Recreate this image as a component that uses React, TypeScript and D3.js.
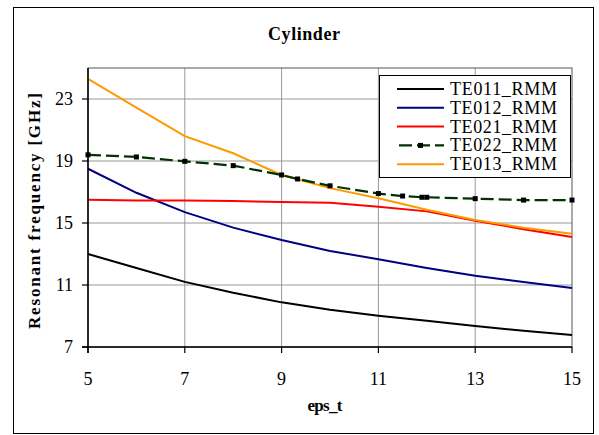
import React from "react";
import * as d3 from "d3";

const xs = [5, 6, 7, 8, 9, 10, 11, 12, 13, 14, 15];
const te011 = [13.0, 12.1, 11.2, 10.5, 9.88, 9.4, 9.02, 8.7, 8.35, 8.05, 7.77];
const te012 = [18.5, 16.95, 15.7, 14.7, 13.9, 13.2, 12.66, 12.1, 11.6, 11.2, 10.8];
const te021 = [16.5, 16.45, 16.45, 16.42, 16.35, 16.3, 16.05, 15.75, 15.15, 14.6, 14.1];
const te013 = [24.3, 22.45, 20.6, 19.5, 18.1, 17.25, 16.6, 15.85, 15.2, 14.7, 14.3];
const te022X = [5, 6, 7, 8, 9, 9.33, 10, 11, 11.5, 11.9, 12, 13, 14, 15];
const te022 = [19.4, 19.26, 18.98, 18.7, 18.1, 17.84, 17.4, 16.9, 16.74, 16.66, 16.66, 16.57, 16.48, 16.48];
const xTicks = [5, 7, 9, 11, 13, 15];
const yTicks = [7, 11, 15, 19, 23];
const seriesNames = ["TE011_RMM", "TE012_RMM", "TE021_RMM", "TE022_RMM", "TE013_RMM"];
const seriesColors = ["#000000", "#000080", "#ff0000", "#003300", "#ff9900"];

const TS = { fontFamily: "serif" };

export default function App() {
  const W = 599, H = 435;
  const L = 88, R = 572, T = 68, B = 347;
  const x = d3.scaleLinear().domain([5, 15]).range([L, R]);
  const y = d3.scaleLinear().domain([7, 25]).range([B, T]);
  const line = d3.line<[number, number]>().x(d => x(d[0])).y(d => y(d[1]));
  const mk = (vals: number[], xv: number[] = xs) => line(xv.map((v, i) => [v, vals[i]] as [number, number])) || "";
  const series = [
    { d: mk(te011), c: seriesColors[0] },
    { d: mk(te012), c: seriesColors[1] },
    { d: mk(te021), c: seriesColors[2] },
    { d: mk(te013), c: seriesColors[4] },
  ];
  const legY0 = 89, legStep = 18.8;
  return (
    <svg width={W} height={H} style={{ position: "absolute", left: 0, top: 0, fontFamily: "serif" }}>
      <rect x={0} y={0} width={W} height={H} fill="#fff" />
      <rect x={13.5} y={7.5} width={580} height={426} fill="none" stroke="#000" strokeWidth={1} />
      <text x={304} y={40} textAnchor="middle" style={TS} fontSize={18} fontWeight="bold" textLength={72}>Cylinder</text>
      {xTicks.slice(1, -1).map(t => (
        <line key={"gx" + t} x1={x(t)} x2={x(t)} y1={T} y2={B} stroke="#999" strokeWidth={1} />
      ))}
      {yTicks.slice(1).map(t => (
        <line key={"gy" + t} x1={L} x2={R} y1={y(t)} y2={y(t)} stroke="#999" strokeWidth={1} />
      ))}
      <rect x={L} y={T} width={R - L} height={B - T} fill="none" stroke="#555" strokeWidth={1} />
      {series.map((s, i) => (
        <path key={i} d={s.d} fill="none" stroke={s.c} strokeWidth={2} />
      ))}
      <path d={mk(te022, te022X)} fill="none" stroke={seriesColors[3]} strokeWidth={2.2} strokeDasharray="13,5" />
      {te022X.map((v, i) => (
        <rect key={"m" + i} x={x(v) - 2.5} y={y(te022[i]) - 2.5} width={5} height={5} fill="#000" />
      ))}
      <line x1={L} x2={L} y1={T} y2={B + 6} stroke="#000" strokeWidth={1.5} />
      <line x1={L - 6} x2={R} y1={B} y2={B} stroke="#000" strokeWidth={1.5} />
      {xTicks.map(t => (
        <g key={"xt" + t}>
          <line x1={x(t)} x2={x(t)} y1={B} y2={B + 6} stroke="#000" strokeWidth={1.2} />
          <text x={x(t)} y={385} textAnchor="middle" style={TS} fontSize={18}>{t}</text>
        </g>
      ))}
      {yTicks.map(t => (
        <g key={"yt" + t}>
          <line x1={L - 6} x2={L} y1={y(t)} y2={y(t)} stroke="#000" strokeWidth={1.2} />
          <text x={73} y={y(t) + 6} textAnchor="end" style={TS} fontSize={18}>{t}</text>
        </g>
      ))}
      <text x={325} y={411} textAnchor="middle" style={TS} fontSize={17} fontWeight="bold" textLength={35}>eps_t</text>
      <text transform={`translate(40,211) rotate(-90)`} textAnchor="middle" style={TS} fontSize={17} fontWeight="bold" textLength={236}>Resonant frequency [GHz]</text>
      <rect x={379.5} y={75.5} width={191} height={102} fill="#fff" stroke="#000" strokeWidth={1} />
      {seriesNames.map((n, i) => {
        const ly = legY0 + i * legStep;
        return (
          <g key={n}>
            {i === 3 ? (
              <g>
                <line x1={397} x2={444} y1={ly} y2={ly} stroke={seriesColors[3]} strokeWidth={2.2} strokeDasharray="13,5" strokeDashoffset={-2} />
                <rect x={418} y={ly - 2.5} width={5} height={5} fill="#000" />
              </g>
            ) : (
              <line x1={397} x2={444} y1={ly} y2={ly} stroke={seriesColors[i]} strokeWidth={2} />
            )}
            <text x={450} y={ly + 6} style={TS} fontSize={18} textLength={107}>{n}</text>
          </g>
        );
      })}
    </svg>
  );
}
